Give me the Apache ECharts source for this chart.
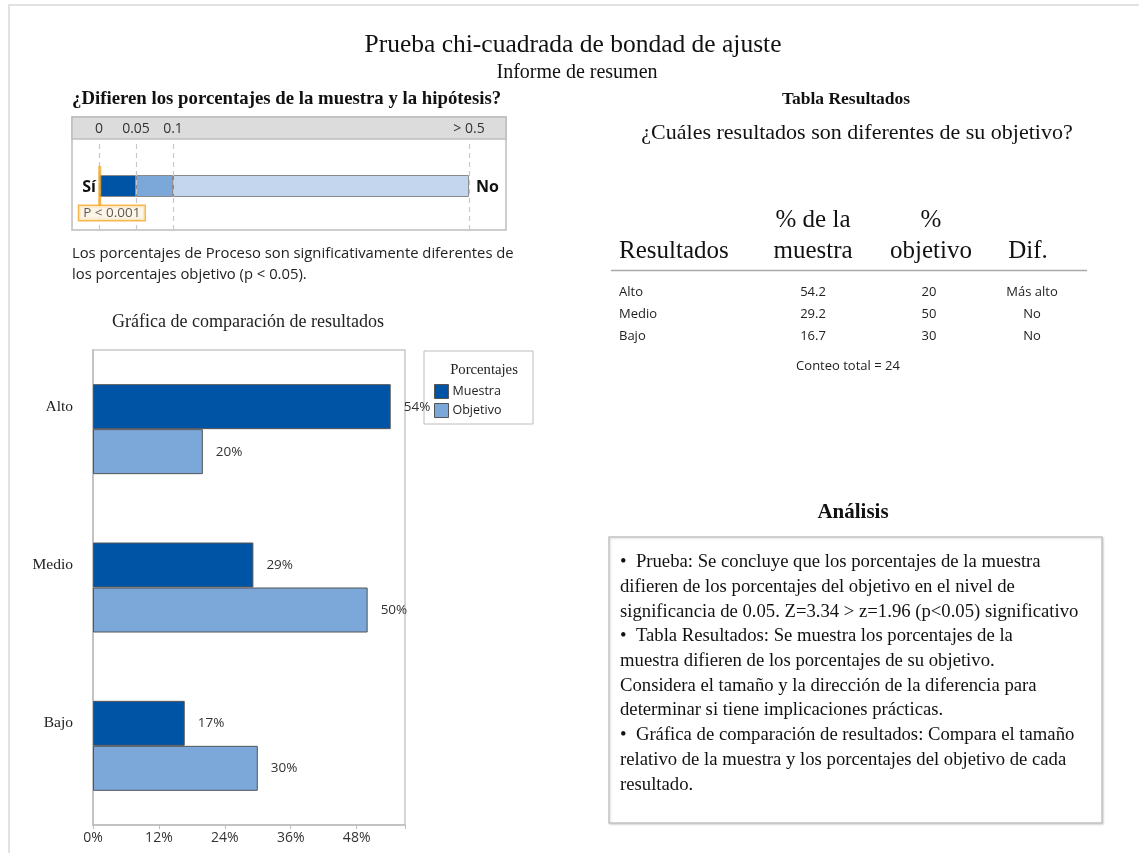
<!DOCTYPE html>
<html>
<head>
<meta charset="utf-8">
<script src="https://cdn.jsdelivr.net/npm/echarts@6/dist/echarts.min.js"></script>
<style>
  html, body { margin: 0; padding: 0; background: #fff; }
  #main { width: 1139px; height: 853px; }
</style>
</head>
<body>
<div id="main"></div>
<script>
// datos del informe
const categories = ['Alto', 'Medio', 'Bajo']
const sampleValues = [54.2, 29.2, 16.7]
const targetValues = [20, 50, 30]
const diffLabels = ['Más alto', 'No', 'No']
const totalCount = 24
const xTicks = [0, 12, 24, 36, 48]
const pTicks = [0, 0.05, 0.1, 0.5]
const pSegments = [0.05, 0.05, 0.4]
const pValue = 0.001

const SERIF = '"Liberation Serif", "Times New Roman", serif'
const SANS = '"Open Sans", "Noto Sans", sans-serif'
const DARK = '#0054A6'
const MID = '#7BA7D9'
const LIGHT = '#C3D6EE'
const ORANGE = '#F5A623'

const analysisLines = [
  '•  Prueba: Se concluye que los porcentajes de la muestra',
  'difieren de los porcentajes del objetivo en el nivel de',
  'significancia de 0.05. Z=3.34 > z=1.96 (p<0.05) significativo',
  '•  Tabla Resultados: Se muestra los porcentajes de la',
  'muestra difieren de los porcentajes de su objetivo.',
  'Considera el tamaño y la dirección de la diferencia para',
  'determinar si tiene implicaciones prácticas.',
  '•  Gráfica de comparación de resultados: Compara el tamaño',
  'relativo de la muestra y los porcentajes del objetivo de cada',
  'resultado.'
]

function txt(x, y, text, font, align, fill) {
  return {
    type: 'text', x: x, y: y, silent: true,
    style: { text: text, font: font, align: align || 'left', verticalAlign: 'middle', fill: fill || '#222' }
  }
}

const graphics = [
  // marco de la página
  { type: 'rect', shape: { x: 9, y: 5, width: 1140, height: 860 }, style: { fill: 'none', stroke: '#E2E2E2', lineWidth: 2 }, silent: true },
  txt(573, 45, 'Prueba chi-cuadrada de bondad de ajuste', '25.5px ' + SERIF, 'center', '#111'),
  txt(577, 73, 'Informe de resumen', '20px ' + SERIF, 'center', '#111'),
  txt(72, 99, '¿Difieren los porcentajes de la muestra y la hipótesis?', 'bold 18.8px ' + SERIF, 'left', '#111'),
  // caja del valor p
  { type: 'rect', shape: { x: 72, y: 117, width: 434, height: 113 }, style: { fill: 'none', stroke: '#BDBDBD', lineWidth: 1.5 }, silent: true, z: -1 },
  { type: 'rect', shape: { x: 72, y: 117, width: 434, height: 22 }, style: { fill: '#DCDCDC', stroke: '#BDBDBD', lineWidth: 1.5 }, silent: true, z: -1 },
  txt(96, 187, 'Sí', 'bold 16px ' + SANS, 'right', '#111'),
  txt(476, 187, 'No', 'bold 16px ' + SANS, 'left', '#111'),
  txt(72, 254, 'Los porcentajes de Proceso son significativamente diferentes de', '14.8px ' + SANS, 'left', '#222'),
  txt(72, 275, 'los porcentajes objetivo (p < 0.05).', '14.8px ' + SANS, 'left', '#222'),
  txt(248, 322, 'Gráfica de comparación de resultados', '18px ' + SERIF, 'center', '#222'),
  // leyenda
  { type: 'rect', shape: { x: 424, y: 351, width: 109, height: 73 }, style: { fill: '#fff', stroke: '#BDBDBD', lineWidth: 1 }, silent: true, z: -1 },
  txt(484, 370, 'Porcentajes', '14.7px ' + SERIF, 'center', '#222'),
  // tabla de resultados
  txt(846, 99, 'Tabla Resultados', 'bold 17.5px ' + SERIF, 'center', '#111'),
  txt(857, 133, '¿Cuáles resultados son diferentes de su objetivo?', '22px ' + SERIF, 'center', '#111'),
  txt(813, 220, '% de la', '25px ' + SERIF, 'center', '#111'),
  txt(813, 251, 'muestra', '25px ' + SERIF, 'center', '#111'),
  txt(931, 220, '%', '25px ' + SERIF, 'center', '#111'),
  txt(931, 251, 'objetivo', '25px ' + SERIF, 'center', '#111'),
  txt(619, 251, 'Resultados', '25px ' + SERIF, 'left', '#111'),
  txt(1028, 251, 'Dif.', '25px ' + SERIF, 'center', '#111'),
  { type: 'line', shape: { x1: 611, y1: 270.5, x2: 1087, y2: 270.5 }, style: { stroke: '#A8A8A8', lineWidth: 1.5 }, silent: true },
  txt(848, 366, 'Conteo total = ' + totalCount, '13px ' + SANS, 'center', '#222'),
  // análisis
  txt(853, 513, 'Análisis', 'bold 21px ' + SERIF, 'center', '#111'),
  { type: 'rect', shape: { x: 609, y: 537, width: 493, height: 286 }, style: { fill: '#fff', stroke: '#C4C4C4', lineWidth: 1.5, shadowBlur: 2, shadowColor: 'rgba(0,0,0,0.15)', shadowOffsetX: 1, shadowOffsetY: 1 }, silent: true, z: -1 },
  {
    type: 'text', x: 620, y: 550, silent: true,
    style: { text: analysisLines.join('\n'), font: '18.7px ' + SERIF, lineHeight: 24.7, fill: '#111', align: 'left', verticalAlign: 'top' }
  }
]

categories.forEach(function (c, i) {
  const y = 292 + i * 22
  graphics.push(txt(619, y, c, '13px ' + SANS, 'left', '#222'))
  graphics.push(txt(813, y, sampleValues[i].toFixed(1), '13px ' + SANS, 'center', '#222'))
  graphics.push(txt(929, y, String(targetValues[i]), '13px ' + SANS, 'center', '#222'))
  graphics.push(txt(1032, y, diffLabels[i], '13px ' + SANS, 'center', '#222'))
})

const barLabel = {
  show: true, position: 'right', distance: 13,
  color: '#333', fontFamily: SANS, fontSize: 13.5,
  formatter: function (p) { return Math.round(p.value) + '%' }
}

const option = {
  animation: false,
  backgroundColor: '#fff',
  graphic: graphics,
  legend: {
    data: ['Muestra', 'Objetivo'],
    orient: 'vertical', left: 429, top: 379,
    itemWidth: 14, itemHeight: 14, itemGap: 4, icon: 'rect',
    itemStyle: { borderColor: '#555', borderWidth: 1 },
    textStyle: { fontFamily: SANS, fontSize: 12.5, color: '#222', padding: [0, 0, 0, -1] },
    selectedMode: false
  },
  grid: [
    { left: 93, top: 350, width: 312, height: 475, show: true, borderColor: '#C8C8C8', borderWidth: 1.5 },
    { left: 99, top: 142, width: 370, height: 88 }
  ],
  xAxis: [
    {
      gridIndex: 0, type: 'value', min: 0, max: 56.8, interval: 12,
      axisLine: { show: true, lineStyle: { color: '#BDBDBD', width: 1.5 } },
      axisTick: { show: true, length: 4, lineStyle: { color: '#BDBDBD' } },
      splitLine: { show: false },
      axisLabel: {
        margin: 6, color: '#333', fontFamily: SANS, fontSize: 14,
        customValues: xTicks, formatter: '{value}%'
      }
    },
    {
      gridIndex: 1, type: 'value', min: 0, max: 0.5, position: 'top',
      axisLine: { show: false }, axisTick: { show: false }, splitLine: { show: false },
      axisLabel: {
        margin: 6, color: '#333', fontFamily: SANS, fontSize: 14,
        customValues: pTicks,
        formatter: function (v) { return v === 0.5 ? '> 0.5' : String(v) }
      }
    }
  ],
  yAxis: [
    {
      gridIndex: 0, type: 'category', data: categories, inverse: true,
      axisLine: { show: true, lineStyle: { color: '#BDBDBD', width: 1.5 } },
      axisTick: { show: false },
      axisLabel: {
        margin: 20, color: '#222', fontFamily: SERIF, fontSize: 15.5,
        lineHeight: 45,
        formatter: function (v) { return v + '\n ' }
      }
    },
    { gridIndex: 1, type: 'category', data: ['p'], show: false }
  ],
  series: [
    {
      name: 'Muestra', type: 'bar', xAxisIndex: 0, yAxisIndex: 0,
      data: sampleValues, barWidth: 45, barGap: '0%',
      itemStyle: { color: DARK, borderColor: '#555', borderWidth: 1 },
      label: barLabel
    },
    {
      name: 'Objetivo', type: 'bar', xAxisIndex: 0, yAxisIndex: 0,
      data: targetValues, barWidth: 45, barGap: '0%',
      itemStyle: { color: MID, borderColor: '#555', borderWidth: 1 },
      label: barLabel
    },
    {
      name: 'p1', type: 'bar', stack: 'p', xAxisIndex: 1, yAxisIndex: 1,
      data: [pSegments[0]], barWidth: 22,
      itemStyle: { color: DARK, borderColor: '#8A8A8A', borderWidth: 1 },
      markLine: {
        silent: true, symbol: 'none', label: { show: false },
        lineStyle: { color: '#C8C8C8', type: [5, 4], width: 1.2 },
        data: pTicks.map(function (v) { return { xAxis: v } })
      },
      z: 3
    },
    {
      name: 'p2', type: 'bar', stack: 'p', xAxisIndex: 1, yAxisIndex: 1,
      data: [pSegments[1]], barWidth: 22,
      itemStyle: { color: MID, borderColor: '#8A8A8A', borderWidth: 1 },
      z: 3
    },
    {
      name: 'p3', type: 'bar', stack: 'p', xAxisIndex: 1, yAxisIndex: 1,
      data: [pSegments[2]], barWidth: 22,
      itemStyle: { color: LIGHT, borderColor: '#8A8A8A', borderWidth: 1 },
      z: 3
    },
    {
      name: 'valor p', type: 'scatter', xAxisIndex: 1, yAxisIndex: 1,
      data: [[pValue, 0]], symbol: 'rect', symbolSize: [3, 40],
      itemStyle: { color: ORANGE },
      label: {
        show: true, position: [-19, 40], formatter: 'P < 0.001',
        fontFamily: SANS, fontSize: 13.5, color: '#333',
        backgroundColor: '#FDF3E1', borderColor: ORANGE, borderWidth: 1.5,
        padding: [0, 4, 0, 4]
      },
      z: 5
    }
  ]
}

const chart = echarts.init(document.getElementById('main'))
chart.setOption(option)
</script>
</body>
</html>
